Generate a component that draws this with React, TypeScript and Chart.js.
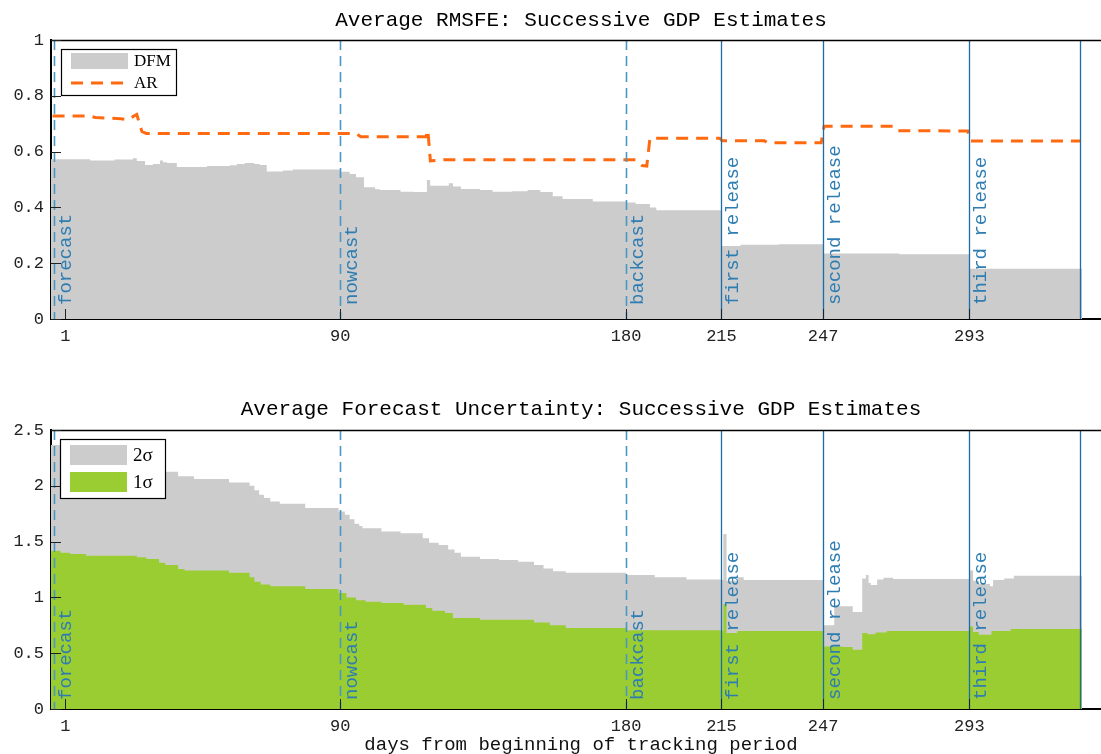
import React, { useEffect, useRef } from 'react';
import { Chart, registerables } from 'chart.js';

Chart.register(...registerables);

// ---------- axis / annotation data ----------
const X_MIN = 0;
const X_MAX = 333.6;

const xTickPositions = [4.5, 91, 181, 211, 243, 289];
const xTickLabels = ['1', '90', '180', '215', '247', '293'];

const eventPositions = [1, 91, 181, 211, 243, 289, 324];
const eventLabels = ['forecast', 'nowcast', 'backcast', 'first release', 'second release', 'third release', ''];
const eventDashed = [true, true, true, false, false, false, false];

const rmsfeTicks = [0, 0.2, 0.4, 0.6, 0.8, 1];
const sigmaTicks = [0, 0.5, 1, 1.5, 2, 2.5];

// ---------- series data (step segments: start index -> value) ----------
const seriesEnd = 324.5;

const dfmStart = [0, 12.3, 20, 25.8, 27, 29.6, 32.1, 34.3, 35.2, 36.5, 39.6, 49.1, 56.3, 58.5, 61, 64, 65.7, 67.9, 73, 76.1, 90.9, 94, 96, 98.5, 102, 103.5, 110, 114, 118.3, 119.3, 125.2, 126.5, 129, 135, 139, 145, 150, 154, 157.9, 161, 170.5, 181, 184, 188.5, 190.5, 211, 217, 229, 243, 267, 289];
const dfmValue = [0.573, 0.568, 0.572, 0.576, 0.566, 0.552, 0.556, 0.568, 0.562, 0.559, 0.545, 0.548, 0.551, 0.556, 0.559, 0.556, 0.552, 0.529, 0.532, 0.536, 0.528, 0.52, 0.508, 0.472, 0.465, 0.462, 0.456, 0.455, 0.498, 0.478, 0.487, 0.475, 0.466, 0.462, 0.456, 0.458, 0.462, 0.455, 0.44, 0.43, 0.421, 0.418, 0.412, 0.4, 0.39, 0.262, 0.266, 0.268, 0.235, 0.232, 0.18];

const arX = [0.5, 12, 14, 22, 24, 25, 27, 28.6, 30, 96, 97.5, 118, 118.6, 119.4, 124, 184, 186, 187.5, 188.5, 210.5, 211.2, 224.5, 225.5, 242.4, 243.3, 265.5, 266.5, 288.5, 289.5, 324];
const arY = [0.728, 0.728, 0.722, 0.718, 0.714, 0.72, 0.733, 0.672, 0.665, 0.665, 0.653, 0.653, 0.677, 0.567, 0.571, 0.571, 0.55, 0.548, 0.648, 0.648, 0.639, 0.639, 0.632, 0.632, 0.691, 0.691, 0.675, 0.674, 0.638, 0.638];

const twoSigmaStart = [0, 4, 12, 20, 28, 35, 40, 45, 56, 62.5, 64, 65.5, 67, 69, 72, 80, 90.5, 92.5, 94, 95.5, 97, 98, 104, 110, 117, 119, 122, 125, 127, 129, 135, 141, 147, 152, 155, 158, 162, 181, 190, 200, 211, 211.6, 212.6, 216, 218, 243, 246.5, 252.3, 255.3, 256.5, 257.3, 258, 260, 262, 265, 289, 290.2, 292, 295.5, 296.5, 300, 303];
const twoSigmaValue = [2.366, 2.33, 2.3, 2.25, 2.18, 2.125, 2.085, 2.06, 2.03, 2.0, 1.96, 1.92, 1.89, 1.86, 1.84, 1.8, 1.77, 1.74, 1.7, 1.66, 1.64, 1.62, 1.59, 1.575, 1.53, 1.49, 1.47, 1.43, 1.4, 1.365, 1.345, 1.335, 1.32, 1.29, 1.26, 1.235, 1.22, 1.2, 1.18, 1.16, 1.156, 1.568, 1.15, 1.18, 1.156, 0.75, 0.92, 0.87, 1.17, 1.2, 1.13, 1.11, 1.16, 1.175, 1.165, 1.24, 1.15, 1.12, 1.1, 1.155, 1.17, 1.195];

const oneSigmaStart = [0, 3, 6, 11, 27, 30, 34, 36, 40, 42, 56, 62.5, 64, 66, 69, 80, 90.5, 93, 96, 99, 104, 111, 118, 120, 124, 126.5, 135, 152, 157, 162, 181, 211, 211.6, 212.6, 216, 243, 249, 252.3, 255.3, 257, 259.5, 263, 289, 290.2, 292, 296, 302];
const oneSigmaValue = [1.418, 1.4, 1.389, 1.374, 1.36, 1.345, 1.31, 1.29, 1.255, 1.24, 1.22, 1.18, 1.14, 1.115, 1.1, 1.075, 1.04, 1.0, 0.975, 0.96, 0.95, 0.935, 0.905, 0.88, 0.86, 0.815, 0.8, 0.775, 0.75, 0.725, 0.705, 0.7, 0.94, 0.68, 0.7, 0.56, 0.555, 0.53, 0.68, 0.67, 0.685, 0.7, 0.74, 0.69, 0.665, 0.7, 0.717];

// ---------- styles ----------
const GREY = '#cccccc';
const GREEN = '#9acd32';
const ORANGE = '#ff6a10';
const DASHED_BLUE = '#4b96c4';
const SOLID_BLUE = '#1c6ca6';
const LABEL_BLUE = '#2d7db3';
const MONO = '"Liberation Mono", "DejaVu Sans Mono", monospace';
const SERIF = '"Liberation Serif", "DejaVu Serif", serif';
const AR_DASH = [12, 8];

function steps(starts: number[], values: number[]) {
  const pts = starts.map((x, i) => ({ x, y: values[i] }));
  pts.push({ x: seriesEnd, y: values[values.length - 1] });
  return pts;
}

type LegendItem = { label: string; kind: 'fill' | 'dash'; color: string };
type Deco = {
  labelLift: number;
  legend: { dx: number; dy: number; w: number; h: number; rows: number[]; swatchH: number; fontSize: number; items: LegendItem[] };
};

function decoPlugin(id: string, deco: Deco) {
  return {
    id,
    afterDatasetsDraw(chart: any) {
      const { ctx, chartArea: a, scales } = chart;
      const xs = scales.x;
      const ys = scales.y;
      ctx.save();
      // event lines
      eventPositions.forEach((pos, i) => {
        const x = Math.round(xs.getPixelForValue(pos)) + 0.5;
        ctx.beginPath();
        ctx.setLineDash(eventDashed[i] ? [10, 6] : []);
        ctx.strokeStyle = eventDashed[i] ? DASHED_BLUE : SOLID_BLUE;
        ctx.lineWidth = eventDashed[i] ? 1.6 : 1.3;
        ctx.moveTo(x, a.top);
        ctx.lineTo(x, a.bottom);
        ctx.stroke();
      });
      ctx.setLineDash([]);
      // event labels
      ctx.fillStyle = LABEL_BLUE;
      ctx.font = `19px ${MONO}`;
      eventPositions.forEach((pos, i) => {
        if (!eventLabels[i]) return;
        const x = xs.getPixelForValue(pos);
        ctx.save();
        ctx.translate(x + 2, a.bottom - deco.labelLift);
        ctx.rotate(-Math.PI / 2);
        ctx.textAlign = 'left';
        ctx.textBaseline = 'top';
        ctx.fillText(eventLabels[i], 0, 0);
        ctx.restore();
      });
      // top box line
      ctx.strokeStyle = '#000';
      ctx.lineWidth = 1.5;
      ctx.beginPath();
      ctx.moveTo(a.left, a.top + 0.5);
      ctx.lineTo(a.right, a.top + 0.5);
      ctx.stroke();
      // inward tick marks
      ctx.strokeStyle = '#222';
      ctx.lineWidth = 1;
      ctx.beginPath();
      xs.ticks.forEach((t: any) => {
        const x = Math.round(xs.getPixelForValue(t.value)) + 0.5;
        ctx.moveTo(x, a.bottom);
        ctx.lineTo(x, a.bottom - 10);
      });
      ys.ticks.forEach((t: any) => {
        const y = Math.round(ys.getPixelForValue(t.value)) + 0.5;
        ctx.moveTo(a.left, y);
        ctx.lineTo(a.left + 10, y);
      });
      ctx.stroke();
      // legend
      const L = deco.legend;
      const bx = a.left + L.dx;
      const by = a.top + L.dy;
      ctx.fillStyle = '#fff';
      ctx.fillRect(bx, by, L.w, L.h);
      ctx.strokeStyle = '#000';
      ctx.lineWidth = 1.2;
      ctx.strokeRect(bx + 0.5, by + 0.5, L.w, L.h);
      L.items.forEach((it, i) => {
        const cy = by + L.rows[i];
        const sx = bx + 10;
        const sw = 57;
        if (it.kind === 'fill') {
          ctx.fillStyle = it.color;
          ctx.fillRect(sx, cy - L.swatchH / 2, sw, L.swatchH);
        } else {
          ctx.strokeStyle = it.color;
          ctx.lineWidth = 3;
          ctx.setLineDash(AR_DASH);
          ctx.beginPath();
          ctx.moveTo(sx, cy);
          ctx.lineTo(sx + sw, cy);
          ctx.stroke();
          ctx.setLineDash([]);
        }
        ctx.fillStyle = '#000';
        ctx.font = `${L.fontSize}px ${SERIF}`;
        ctx.textAlign = 'left';
        ctx.textBaseline = 'middle';
        ctx.fillText(it.label, sx + sw + 6, cy + 1);
      });
      ctx.restore();
    },
  };
}

function makeOptions(title: string, titlePad: { top: number; bottom: number }, yMax: number, yTicks: number[], xHeight: number, xTitle?: string) {
  return {
    responsive: false,
    maintainAspectRatio: false,
    animation: false as const,
    layout: { padding: 0 },
    plugins: {
      legend: { display: false },
      tooltip: { enabled: false },
      title: {
        display: true,
        text: title,
        fullSize: false,
        color: '#000',
        font: { family: MONO, size: 21, weight: 'normal' as const, lineHeight: 1.2 },
        padding: titlePad,
      },
    },
    scales: {
      x: {
        type: 'linear' as const,
        min: X_MIN,
        max: X_MAX,
        grid: { display: false, drawTicks: false },
        border: { display: true, color: '#000', width: 2 },
        afterBuildTicks: (scale: any) => {
          scale.ticks = xTickPositions.map((v) => ({ value: v }));
        },
        afterFit: (scale: any) => {
          scale.height = xHeight;
        },
        ticks: {
          autoSkip: false,
          maxRotation: 0,
          minRotation: 0,
          padding: 7,
          color: '#222',
          font: { family: MONO, size: 17 },
          callback: (_v: any, i: number) => xTickLabels[i],
        },
        title: xTitle
          ? { display: true, text: xTitle, color: '#111', font: { family: MONO, size: 19, lineHeight: 0.95 }, padding: { top: 0, bottom: 0 } }
          : { display: false },
      },
      y: {
        type: 'linear' as const,
        min: 0,
        max: yMax,
        grid: { display: false, drawTicks: false },
        border: { display: true, color: '#000', width: 2 },
        afterBuildTicks: (scale: any) => {
          scale.ticks = yTicks.map((v) => ({ value: v }));
        },
        afterFit: (scale: any) => {
          scale.width = 51;
        },
        ticks: {
          padding: 7,
          color: '#222',
          font: { family: MONO, size: 17 },
          callback: (v: any) => String(Math.round(Number(v) * 10) / 10),
        },
      },
    },
  };
}

export default function App() {
  const topRef = useRef<HTMLCanvasElement | null>(null);
  const botRef = useRef<HTMLCanvasElement | null>(null);

  useEffect(() => {
    const top = new Chart(topRef.current as HTMLCanvasElement, {
      type: 'line',
      data: {
        datasets: [
          {
            label: 'AR',
            data: arX.map((x, i) => ({ x, y: arY[i] })),
            borderColor: ORANGE,
            borderWidth: 3,
            borderDash: AR_DASH,
            pointRadius: 0,
            tension: 0,
            fill: false,
            order: 0,
          },
          {
            label: 'DFM',
            data: steps(dfmStart, dfmValue),
            stepped: true,
            borderWidth: 0,
            borderColor: GREY,
            backgroundColor: GREY,
            pointRadius: 0,
            fill: 'origin',
            order: 1,
          },
        ],
      },
      options: makeOptions('Average RMSFE: Successive GDP Estimates', { top: 8, bottom: 6.8 }, 1, rmsfeTicks, 58) as any,
      plugins: [
        decoPlugin('decoTop', {
          labelLift: 14,
          legend: {
            dx: 10, dy: 9, w: 115, h: 46, rows: [12, 34], swatchH: 16, fontSize: 17,
            items: [
              { label: 'DFM', kind: 'fill', color: GREY },
              { label: 'AR', kind: 'dash', color: ORANGE },
            ],
          },
        }),
      ],
    });

    const bot = new Chart(botRef.current as HTMLCanvasElement, {
      type: 'line',
      data: {
        datasets: [
          {
            label: '1σ',
            data: steps(oneSigmaStart, oneSigmaValue),
            stepped: true,
            borderWidth: 0,
            borderColor: GREEN,
            backgroundColor: GREEN,
            pointRadius: 0,
            fill: 'origin',
            order: 0,
          },
          {
            label: '2σ',
            data: steps(twoSigmaStart, twoSigmaValue),
            stepped: true,
            borderWidth: 0,
            borderColor: GREY,
            backgroundColor: GREY,
            pointRadius: 0,
            fill: 'origin',
            order: 1,
          },
        ],
      },
      options: makeOptions('Average Forecast Uncertainty: Successive GDP Estimates', { top: 20, bottom: 7.8 }, 2.5, sigmaTicks, 45, 'days from beginning of tracking period') as any,
      plugins: [
        decoPlugin('decoBot', {
          labelLift: 9,
          legend: {
            dx: 9, dy: 9, w: 105, h: 59, rows: [16, 43], swatchH: 20, fontSize: 19,
            items: [
              { label: '2σ', kind: 'fill', color: GREY },
              { label: '1σ', kind: 'fill', color: GREEN },
            ],
          },
        }),
      ],
    });

    return () => {
      top.destroy();
      bot.destroy();
    };
  }, []);

  return (
    <div style={{ position: 'fixed', left: 0, top: 0, width: 1101, height: 754, overflow: 'hidden', background: '#fff' }}>
      <canvas ref={topRef} width={1111} height={377} style={{ display: 'block' }} />
      <canvas ref={botRef} width={1111} height={377} style={{ display: 'block' }} />
    </div>
  );
}
